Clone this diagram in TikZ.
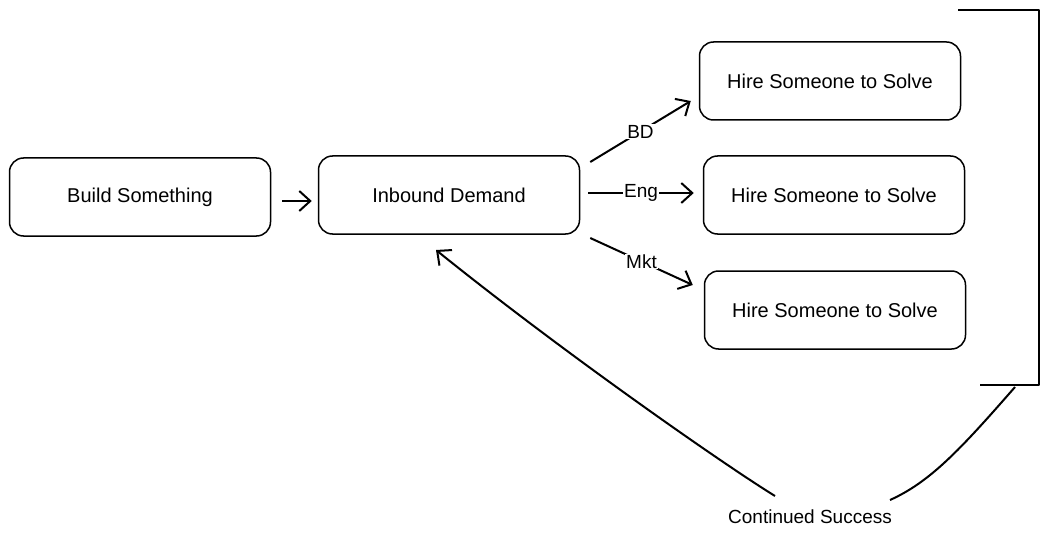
\documentclass[tikz,border=0pt]{standalone}
\usepackage{fontspec}
\setmainfont{Liberation Sans}
\usetikzlibrary{arrows.meta}
\begin{document}
\begin{tikzpicture}[x=1pt,y=-1pt,
  box/.style={draw, line width=1.5pt, rounded corners=14pt, minimum width=261pt, minimum height=78pt, font=\fontsize{20}{24}\selectfont},
  conn/.style={line width=2pt, -{Straight Barb[length=11pt,width=20pt,line width=2pt]}},
  lbl/.style={fill=white, inner sep=1pt, font=\fontsize{19}{23}\selectfont},
  plain/.style={line width=2pt}]
\useasboundingbox (0,0) rectangle (1051,540);
\node[box] (build) at (140,197) {Build Something};
\node[box] (inbound) at (449,195) {Inbound Demand};
\node[box] (h1) at (830,81) {Hire Someone to Solve};
\node[box] (h2) at (834,195) {Hire Someone to Solve};
\node[box] (h3) at (835,310) {Hire Someone to Solve};
\node[font=\fontsize{19}{23}\selectfont] (cs) at (810,517) {Continued Success};
% arrows
\draw[conn] ([xshift=11pt,yshift=-4pt]build.east) -- ([xshift=-6pt,yshift=-6pt]inbound.west);
\draw[conn] ([xshift=10pt,yshift=33pt]inbound.east) -- node[lbl] {BD} ([xshift=-8pt,yshift=-20pt]h1.west);
\draw[conn] ([xshift=8pt,yshift=2pt]inbound.east) -- node[lbl, pos=0.5] {Eng} ([xshift=-9pt,yshift=2pt]h2.west);
\draw[conn] ([xshift=10pt,yshift=-43pt]inbound.east) -- node[lbl] {Mkt} ([xshift=-11pt,yshift=25pt]h3.west);
% bracket
\coordinate (bt) at (958,10);
\coordinate (btr) at (1039,10);
\coordinate (bbr) at (1039,385);
\coordinate (bb) at (980,385);
\draw[plain, line join=round] (bt) -- (btr) -- (bbr) -- (bb);
\coordinate (bs) at (1015,387);
\coordinate (ce) at (890,500);
\draw[plain] (bs) .. controls (960,450) and (930,482) .. (ce);
% return arrow
\coordinate (cw) at (775,496);
\coordinate (ret) at (436,250);
\draw[conn] (cw) .. controls (720,462) and (560,350) .. (ret);
\end{tikzpicture}
\end{document}
